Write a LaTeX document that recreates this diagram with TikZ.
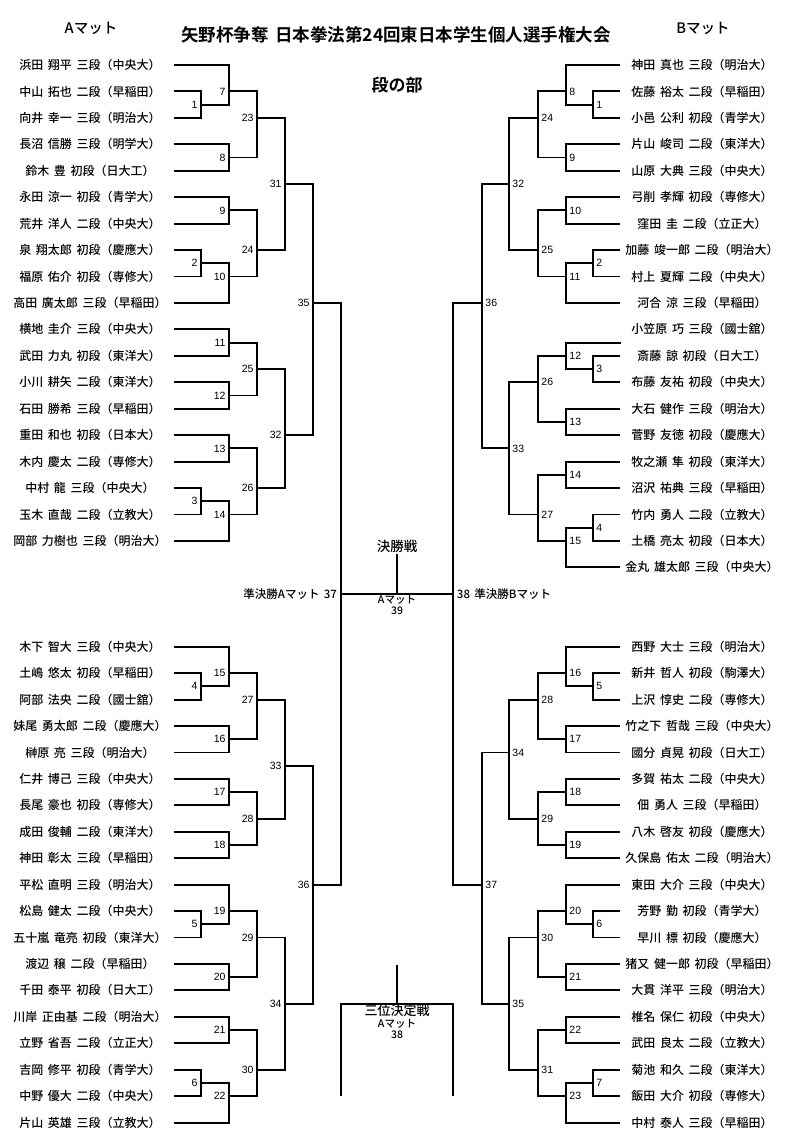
\documentclass[tikz,border=0pt]{standalone}
\usepackage{fontspec}
\setmainfont{Noto Sans CJK JP}[UprightFont=* Medium, BoldFont=* Bold, WordSpace=1.7]
\newfontfamily\numfont{Liberation Sans}
\usetikzlibrary{positioning}

\tikzset{
  lname/.style={minimum width=166pt, inner sep=0pt},
  rname/.style={minimum width=162pt, inner sep=0pt},
  lnum/.style={anchor=east, inner sep=0pt, xshift=-2.5pt, font=\numfont\fontsize{10.5}{12}\selectfont},
  rnum/.style={anchor=west, inner sep=0pt, xshift=2.5pt, font=\numfont\fontsize{10.5}{12}\selectfont},
  small/.style={inner sep=0.5pt, font=\fontsize{10.5}{12}\selectfont}
}

\begin{document}
\begin{tikzpicture}[x=1pt, y=-13.22pt, line width=1.9pt, font=\fontsize{12}{14}\selectfont]
	\useasboundingbox (0,-4.917) rectangle (800,81.92);
	% headings
	\node[font=\bfseries\fontsize{17.5}{20}\selectfont] (title) at (396,-2.27) {矢野杯争奪 日本拳法第24回東日本学生個人選手権大会};
	\node[font=\bfseries\fontsize{17}{20}\selectfont] (part) at (397,1.5) {段の部};
	\node[font=\fontsize{14.5}{16}\selectfont] (matA) at (91,-2.8) {Aマット};
	\node[font=\fontsize{14.5}{16}\selectfont] (matB) at (703,-2.8) {Bマット};
	% players
	\foreach \t [count=\i] in {浜田 翔平 三段（中央大）, 中山 拓也 二段（早稲田）, 向井 幸一 三段（明治大）, 長沼 信勝 三段（明学大）, 鈴木 豊 初段（日大工）, 永田 涼一 初段（青学大）, 荒井 洋人 二段（中央大）, 泉 翔太郎 初段（慶應大）, 福原 佑介 初段（専修大）, 高田 廣太郎 三段（早稲田）, 横地 圭介 三段（中央大）, 武田 力丸 初段（東洋大）, 小川 耕矢 二段（東洋大）, 石田 勝希 三段（早稲田）, 重田 和也 初段（日本大）, 木内 慶太 二段（専修大）, 中村 龍 三段（中央大）, 玉木 直哉 二段（立教大）, 岡部 力樹也 三段（明治大）}
		\node[lname] (la\i) at (90,{2*\i-2}) {\t};
	\foreach \t [count=\i] in {木下 智大 三段（中央大）, 土嶋 悠太 初段（早稲田）, 阿部 法央 二段（國士舘）, 妹尾 勇太郎 二段（慶應大）, 榊原 亮 三段（明治大）, 仁井 博己 三段（中央大）, 長尾 豪也 初段（専修大）, 成田 俊輔 二段（東洋大）, 神田 彰太 三段（早稲田）, 平松 直明 三段（明治大）, 松島 健太 二段（中央大）, 五十嵐 竜亮 初段（東洋大）, 渡辺 穣 二段（早稲田）, 千田 泰平 初段（日大工）, 川岸 正由基 二段（明治大）, 立野 省吾 二段（立正大）, 吉岡 修平 初段（青学大）, 中野 優大 二段（中央大）, 片山 英雄 三段（立教大）}
		\node[lname] (lb\i) at (90,{2*\i+42}) {\t};
	\foreach \t [count=\i] in {神田 真也 三段（明治大）, 佐藤 裕太 二段（早稲田）, 小邑 公利 初段（青学大）, 片山 峻司 二段（東洋大）, 山原 大典 三段（中央大）, 弓削 孝輝 初段（専修大）, 窪田 圭 二段（立正大）, 加藤 竣一郎 二段（明治大）, 村上 夏輝 二段（中央大）, 河合 涼 三段（早稲田）, 小笠原 巧 三段（國士舘）, 斎藤 諒 初段（日大工）, 布藤 友祐 初段（中央大）, 大石 健作 三段（明治大）, 菅野 友徳 初段（慶應大）, 牧之瀬 隼 初段（東洋大）, 沼沢 祐典 三段（早稲田）, 竹内 勇人 二段（立教大）, 土橋 亮太 初段（日本大）, 金丸 雄太郎 三段（中央大）}
		\node[rname] (ra\i) at (702,{2*\i-2}) {\t};
	\foreach \t [count=\i] in {西野 大士 三段（明治大）, 新井 哲人 初段（駒澤大）, 上沢 惇史 二段（専修大）, 竹之下 哲哉 三段（中央大）, 國分 貞晃 初段（日大工）, 多賀 祐太 二段（中央大）, 佃 勇人 三段（早稲田）, 八木 啓友 初段（慶應大）, 久保島 佑太 二段（明治大）, 東田 大介 三段（中央大）, 芳野 勤 初段（青学大）, 早川 標 初段（慶應大）, 猪又 健一郎 初段（早稲田）, 大貫 洋平 三段（明治大）, 椎名 保仁 初段（中央大）, 武田 良太 二段（立教大）, 菊池 和久 二段（東洋大）, 飯田 大介 初段（専修大）, 中村 泰人 三段（早稲田）}
		\node[rname] (rb\i) at (702,{2*\i+42}) {\t};
	\coordinate (ra11l) at (621,21);
	% A mat brackets: number/x/row/upper/lower
	\foreach \n/\x/\r/\a/\b in {1/201/3/la2.east/la3.east, 7/229/2/la1.east/l1, 8/229/7/la4.east/la5.east, 23/257/4/l7/l8,
		9/229/11/la6.east/la7.east, 2/201/15/la8.east/la9.east, 10/229/16/l2/la10.east, 24/257/14/l9/l10, 31/285/9/l23/l24,
		11/229/21/la11.east/la12.east, 12/229/25/la13.east/la14.east, 25/257/23/l11/l12, 13/229/29/la15.east/la16.east,
		3/201/33/la17.east/la18.east, 14/229/34/l3/la19.east, 26/257/32/l13/l14, 32/285/28/l25/l26, 35/313/18/l31/l32,
		4/201/47/lb2.east/lb3.east, 15/229/46/lb1.east/l4, 16/229/51/lb4.east/lb5.east, 27/257/48/l15/l16,
		17/229/55/lb6.east/lb7.east, 18/229/59/lb8.east/lb9.east, 28/257/57/l17/l18, 33/285/53/l27/l28,
		5/201/65/lb11.east/lb12.east, 19/229/64/lb10.east/l5, 20/229/69/lb13.east/lb14.east, 29/257/66/l19/l20,
		21/229/73/lb15.east/lb16.east, 6/201/77/lb17.east/lb18.east, 22/229/78/l6/lb19.east, 30/257/76/l21/l22,
		34/285/71/l29/l30, 36/313/62/l33/l34} {
		\coordinate (l\n) at (\x,\r);
		\draw (\a) -| (l\n) |- (\b);
		\node[lnum] (nl\n) at (l\n) {\n};
	}
	% B mat brackets
	\foreach \n/\x/\r/\a/\b in {1/593/3/ra2.west/ra3.west, 8/566/2/ra1.west/r1, 9/566/7/ra4.west/ra5.west, 24/538/4/r8/r9,
		10/566/11/ra6.west/ra7.west, 2/593/15/ra8.west/ra9.west, 11/566/16/r2/ra10.west, 25/538/14/r10/r11, 32/509/9/r24/r25,
		3/593/23/ra12.west/ra13.west, 12/566/22/ra11l/r3, 13/566/27/ra14.west/ra15.west, 26/538/24/r12/r13,
		14/566/31/ra16.west/ra17.west, 4/593/35/ra18.west/ra19.west, 15/566/36/r4/ra20.west, 27/538/34/r14/r15,
		33/509/29/r26/r27, 36/482/18/r32/r33,
		5/593/47/rb2.west/rb3.west, 16/566/46/rb1.west/r5, 17/566/51/rb4.west/rb5.west, 28/538/48/r16/r17,
		18/566/55/rb6.west/rb7.west, 19/566/59/rb8.west/rb9.west, 29/538/57/r18/r19, 34/509/52/r28/r29,
		6/593/65/rb11.west/rb12.west, 20/566/64/rb10.west/r6, 21/566/69/rb13.west/rb14.west, 30/538/66/r20/r21,
		22/566/73/rb15.west/rb16.west, 7/593/77/rb17.west/rb18.west, 23/566/78/r7/rb19.west, 31/538/76/r22/r23,
		35/509/71/r30/r31, 37/482/62/r34/r35} {
		\coordinate (r\n) at (\x,\r);
		\draw (\a) -| (r\n) |- (\b);
		\node[rnum] (nr\n) at (r\n) {\n};
	}
	% semifinals and final
	\coordinate (sa) at (341,40);
	\coordinate (sb) at (453,40);
	\coordinate (fc) at (397,40);
	\draw (l35) -| (sa) |- (l36);
	\draw (r36) -| (sb) |- (r37);
	\draw (sa) -- (sb);
	\node[left=3pt of sa, inner sep=0pt, font=\fontsize{11.5}{13}\selectfont] (semA) {準決勝Aマット 37};
	\node[right=3pt of sb, inner sep=0pt, font=\fontsize{11.5}{13}\selectfont] (semB) {38 準決勝Bマット};
	\node[inner sep=1pt, font=\fontsize{13.5}{15}\selectfont] (final) at (397,36.4) {決勝戦};
	\draw (final.south) -- (fc);
	\node[below=0pt of fc, small] (finmat) {Aマット};
	\node[below=0pt of finmat, small] (finno) {39};
	% third place
	\coordinate (tc) at (397,71);
	\coordinate (tt) at (397,68.1);
	\coordinate (tl) at (341,78);
	\coordinate (tr) at (453,78);
	\draw (tl) |- (tc) -| (tr);
	\draw (tt) -- (tc);
	\node[below=0pt of tc, inner sep=0pt, font=\fontsize{13}{15}\selectfont] (third) {三位決定戦};
	\node[below=0pt of third, small] (thirdmat) {Aマット};
	\node[below=0pt of thirdmat, small] (thirdno) {38};
\end{tikzpicture}
\end{document}
